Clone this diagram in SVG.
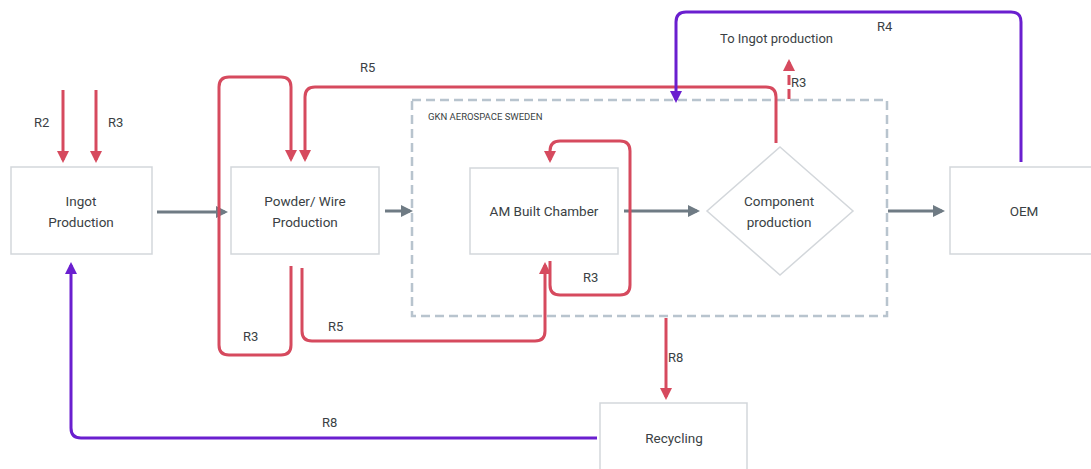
<svg xmlns="http://www.w3.org/2000/svg" width="1091" height="469" viewBox="0 0 1091 469">
<style>
.box{fill:#fff;stroke:#d3d7db;stroke-width:1.5}
.t{font-family:Roboto,"Liberation Sans",sans-serif;font-size:13.5px;fill:#3a3f44;text-anchor:middle}
.l{font-family:Roboto,"Liberation Sans",sans-serif;font-size:13px;fill:#3a3f44}
.g{fill:none;stroke:#6f7b84;stroke-width:3}
.r{fill:none;stroke:#d64a5e;stroke-width:3;stroke-linejoin:round}
.p{fill:none;stroke:#6a1fcf;stroke-width:3;stroke-linejoin:round}
</style>
<defs>
<marker id="ag" markerWidth="4" markerHeight="4" refX="3" refY="2" orient="auto" markerUnits="strokeWidth"><path d="M0,0 L4,2 L0,4 z" fill="#6f7b84"/></marker>
<marker id="ar" markerWidth="4" markerHeight="4" refX="3" refY="2" orient="auto" markerUnits="strokeWidth"><path d="M0,0 L4,2 L0,4 z" fill="#d64a5e"/></marker>
<marker id="ap" markerWidth="4" markerHeight="4" refX="3" refY="2" orient="auto" markerUnits="strokeWidth"><path d="M0,0 L4,2 L0,4 z" fill="#6a1fcf"/></marker>
</defs>
<rect width="1091" height="469" fill="#fff"/>
<g id="group-gkn">
<rect x="412" y="100" width="475" height="216" fill="none" stroke="#b8c4ce" stroke-width="2.5" stroke-dasharray="9,5"/>
<text x="428" y="120" font-family="Roboto,'Liberation Sans',sans-serif" font-size="9.5px" fill="#3a3f44">GKN AEROSPACE SWEDEN</text>
</g>
<g id="node-ingot"><rect class="box" x="11" y="167" width="141" height="87"/><text class="t" x="81" y="206">Ingot</text><text class="t" x="81" y="227">Production</text></g>
<g id="node-powder"><rect class="box" x="231" y="167" width="148" height="87"/><text class="t" x="305" y="206">Powder/ Wire</text><text class="t" x="305" y="227">Production</text></g>
<g id="node-am"><rect class="box" x="470" y="168" width="148" height="86"/><text class="t" x="544" y="216">AM Built Chamber</text></g>
<g id="node-component"><polygon class="box" points="780,147 853,211 780,275 707,211"/><text class="t" x="779" y="206">Component</text><text class="t" x="779" y="227">production</text></g>
<g id="node-oem"><rect class="box" x="950" y="167" width="150" height="87"/><text class="t" x="1024" y="216">OEM</text></g>
<g id="node-recycling"><rect class="box" x="600" y="403" width="147" height="80"/><text class="t" x="674" y="443">Recycling</text></g>
<g id="connectors">
<path class="g" d="M157,212 H225" marker-end="url(#ag)"/>
<path class="g" d="M385,211 H410" marker-end="url(#ag)"/>
<path class="g" d="M624,211 H697" marker-end="url(#ag)"/>
<path class="g" d="M888,211 H942" marker-end="url(#ag)"/>
<path class="r" d="M63,90 V160" marker-end="url(#ar)"/>
<path class="r" d="M96,90 V160" marker-end="url(#ar)"/>
<path class="r" d="M291,266 V345 Q291,355 281,355 H229 Q219,355 219,345 V87 Q219,77 229,77 H281 Q291,77 291,87 V159" marker-end="url(#ar)"/>
<path class="r" d="M776,143 V97 Q776,87 766,87 H315 Q305,87 305,97 V159" marker-end="url(#ar)"/>
<path class="r" d="M302,268 V331 Q302,341 312,341 H535 Q545,341 545,331 V265" marker-end="url(#ar)"/>
<path class="r" d="M550,261 V285 Q550,295 560,295 H620 Q630,295 630,285 V151 Q630,141 620,141 H560 Q550,141 550,151 V160" marker-end="url(#ar)"/>
<path class="r" d="M789,99 V62" stroke-dasharray="10,4" marker-end="url(#ar)"/>
<path class="r" d="M666,318 V397" stroke-width="2.5" marker-end="url(#ar)"/>
<path class="p" d="M1021,162 V22 Q1021,12 1011,12 H686 Q676,12 676,22 V100" marker-end="url(#ap)"/>
<path class="p" d="M597,438 H81 Q71,438 71,428 V265" marker-end="url(#ap)"/>
</g>
<g id="labels">
<text class="l" x="34" y="127">R2</text>
<text class="l" x="108" y="127">R3</text>
<text class="l" x="360" y="72">R5</text>
<text class="l" x="243" y="341">R3</text>
<text class="l" x="328" y="331">R5</text>
<text class="l" x="583" y="282">R3</text>
<text class="l" x="791" y="87">R3</text>
<text class="l" x="720" y="43">To Ingot production</text>
<text class="l" x="877" y="31">R4</text>
<text class="l" x="668" y="362">R8</text>
<text class="l" x="322" y="427">R8</text>
</g>
</svg>
